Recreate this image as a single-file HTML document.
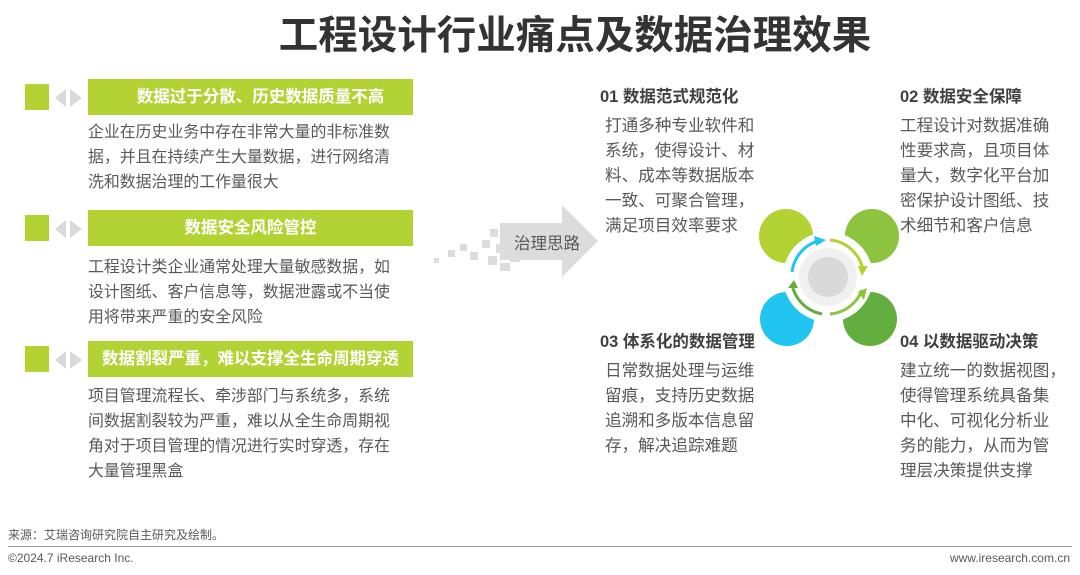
<!DOCTYPE html>
<html><head><meta charset="utf-8"><style>
*{margin:0;padding:0;box-sizing:border-box}
body{width:1080px;height:575px;background:#fff;position:relative;overflow:hidden;font-family:"Liberation Sans","Noto Sans CJK SC",sans-serif;color:#595959}
.a{position:absolute;white-space:nowrap}
.title{left:0;width:1150px;top:12px;text-align:center;font-size:39.5px;font-weight:bold;color:#333;line-height:48px}
.sq{position:absolute;width:24px;height:26px;background:#b3d334}
.bar{position:absolute;left:88px;width:325px;height:36px;background:#b3d334;color:#fff;font-weight:bold;font-size:16.5px;line-height:36px;text-align:center}
.txt{position:absolute;font-size:15.9px;line-height:25px;color:#595959;white-space:nowrap}
.rt{position:absolute;font-size:16.6px;line-height:25px;color:#595959;white-space:nowrap}
.h{position:absolute;font-size:16.5px;font-weight:bold;color:#404040;white-space:nowrap}
</style></head><body>
<div class="a title">工程设计行业痛点及数据治理效果</div>

<div class="sq" style="left:25px;top:84px"></div>
<svg class="a" style="left:55px;top:88px" width="28" height="20"><polygon points="0,10 11,1 11,19" fill="#d9d9d9"/><polygon points="27,10 15,1 15,19" fill="#d9d9d9"/></svg>
<div class="bar" style="top:79px;padding-left:20px">数据过于分散、历史数据质量不高</div>
<div class="txt" style="left:88px;top:120px">企业在历史业务中存在非常大量的非标准数<br>据，并且在持续产生大量数据，进行网络清<br>洗和数据治理的工作量很大</div>

<div class="sq" style="left:25px;top:215px"></div>
<svg class="a" style="left:55px;top:219px" width="28" height="20"><polygon points="0,10 11,1 11,19" fill="#d9d9d9"/><polygon points="27,10 15,1 15,19" fill="#d9d9d9"/></svg>
<div class="bar" style="top:210px">数据安全风险管控</div>
<div class="txt" style="left:88px;top:255px">工程设计类企业通常处理大量敏感数据，如<br>设计图纸、客户信息等，数据泄露或不当使<br>用将带来严重的安全风险</div>

<div class="sq" style="left:25px;top:346px"></div>
<svg class="a" style="left:55px;top:350px" width="28" height="20"><polygon points="0,10 11,1 11,19" fill="#d9d9d9"/><polygon points="27,10 15,1 15,19" fill="#d9d9d9"/></svg>
<div class="bar" style="top:341px">数据割裂严重，难以支撑全生命周期穿透</div>
<div class="txt" style="left:88px;top:384px">项目管理流程长、牵涉部门与系统多，系统<br>间数据割裂较为严重，难以从全生命周期视<br>角对于项目管理的情况进行实时穿透，存在<br>大量管理黑盒</div>

<svg class="a" style="left:430px;top:200px" width="175" height="85">
<g fill="#dcdcdc">
<rect x="4" y="58" width="5" height="5"/><rect x="18" y="50" width="7" height="7"/><rect x="30" y="44" width="7" height="7"/><rect x="40" y="52" width="8" height="8"/><rect x="52" y="40" width="8" height="8"/><rect x="58" y="56" width="9" height="9"/><rect x="66" y="44" width="9" height="9"/><rect x="78" y="36" width="10" height="10"/><rect x="80" y="52" width="10" height="10"/><rect x="60" y="29" width="8" height="8"/>
<rect x="70" y="63" width="10" height="8"/>
<polygon points="70,23 132,23 132,5 168,41 132,77 132,60 70,60"/>
</g></svg>
<div class="a" style="left:514px;top:230px;font-size:16.5px;color:#595959">治理思路</div>

<div class="h" style="left:600px;top:83px">01 数据范式规范化</div>
<div class="rt" style="left:605px;top:113px">打通多种专业软件和<br>系统，使得设计、材<br>料、成本等数据版本<br>一致、可聚合管理，<br>满足项目效率要求</div>
<div class="h" style="left:900px;top:83px">02 数据安全保障</div>
<div class="rt" style="left:900px;top:113px">工程设计对数据准确<br>性要求高，且项目体<br>量大，数字化平台加<br>密保护设计图纸、技<br>术细节和客户信息</div>
<div class="h" style="left:600px;top:328px">03 体系化的数据管理</div>
<div class="rt" style="left:605px;top:358px">日常数据处理与运维<br>留痕，支持历史数据<br>追溯和多版本信息留<br>存，解决追踪难题</div>
<div class="h" style="left:900px;top:328px">04 以数据驱动决策</div>
<div class="rt" style="left:900px;top:358px">建立统一的数据视图，<br>使得管理系统具备集<br>中化、可视化分析业<br>务的能力，从而为管<br>理层决策提供支撑</div>

<svg class="a" style="left:750px;top:200px" width="160" height="160">
<circle cx="36" cy="36" r="27" fill="#b3d334"/>
<circle cx="122" cy="36" r="27" fill="#8cc43f"/>
<circle cx="37" cy="119" r="27" fill="#21c5ef"/>
<circle cx="120" cy="119" r="27" fill="#64ad3f"/>
<circle cx="78" cy="77" r="45" fill="#fff"/>
<circle cx="78" cy="77" r="29" fill="#f0f0f0"/>
<circle cx="78" cy="77" r="20" fill="#d9d9d9"/>
<path d="M80,40 A37,37 0 0 1 113,70" fill="none" stroke="#b3d334" stroke-width="3"/>
<polygon points="108,66 118,66 112,76" fill="#b3d334"/>
<path d="M112,90 A37,37 0 0 1 80,114" fill="none" stroke="#8cc43f" stroke-width="3"/>
<polygon points="108,92 117,88 114,100" fill="#8cc43f"/>
<path d="M72,114 A37,37 0 0 1 42,84" fill="none" stroke="#64ad3f" stroke-width="3"/>
<polygon points="38,88 48,88 44,80" fill="#64ad3f"/>
<path d="M42,72 A37,37 0 0 1 72,40" fill="none" stroke="#21c5ef" stroke-width="3"/>
<polygon points="64,36 76,40 66,46" fill="#21c5ef"/>
</svg>

<div class="a" style="left:8px;top:526px;font-size:12px;color:#595959">来源：艾瑞咨询研究院自主研究及绘制。</div>
<div class="a" style="left:8px;top:546px;width:1064px;height:1px;background:#999"></div>
<div class="a" style="left:8px;top:551px;font-size:12px;color:#595959">©2024.7 iResearch Inc.</div>
<div class="a" style="right:10px;top:551px;font-size:12px;color:#595959">www.iresearch.com.cn</div>
</body></html>
